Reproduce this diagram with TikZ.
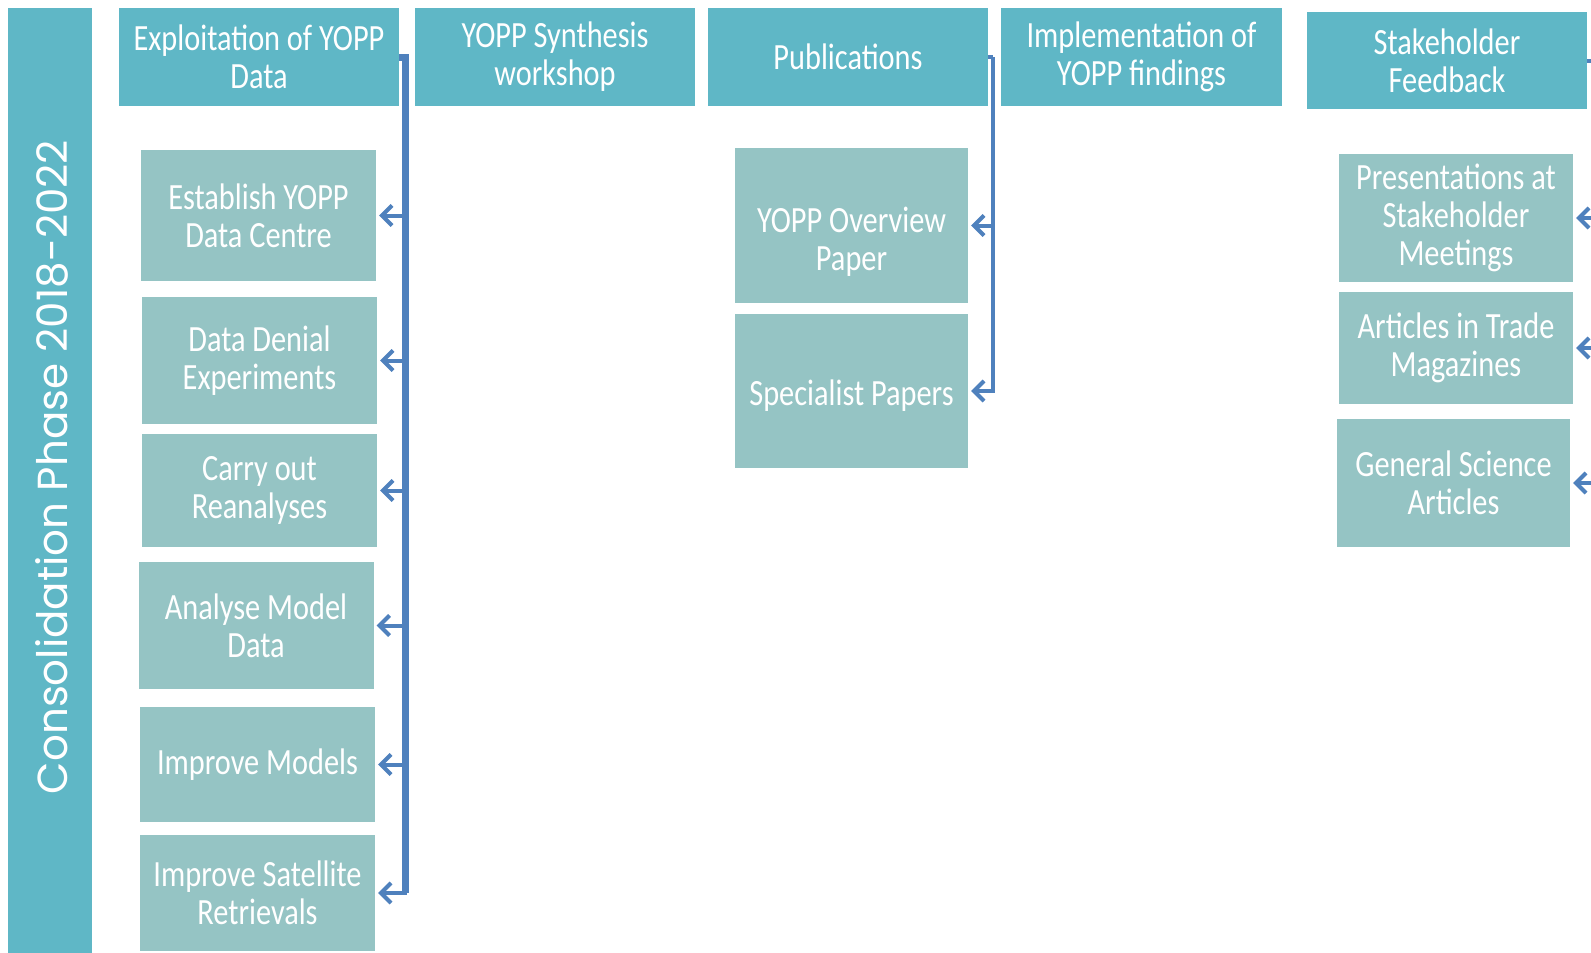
\documentclass[tikz,border=0pt]{standalone}
\usepackage{fontspec}
\setmainfont{Carlito}[FakeStretch=0.82]
\newfontfamily\balken{Poppins}
\usetikzlibrary{arrows.meta}
\definecolor{kopfblau}{HTML}{5FB7C6}
\definecolor{feldgruen}{HTML}{95C4C4}
\definecolor{pfeilblau}{HTML}{4F81BD}
\tikzset{
  schrift/.style={text=white, inner sep=0pt, align=center, font=\fontsize{37}{38}\selectfont},
  kopf/.style={schrift, fill=kopfblau, minimum width=280pt, minimum height=98pt},
  feld/.style={schrift, fill=feldgruen, minimum width=235pt},
  pfeil/.style={pfeilblau, line width=4pt, -{Straight Barb[length=10pt,width=20pt]}, shorten >=3pt}
}
\begin{document}
\begin{tikzpicture}[x=1pt, y=-1pt]
\useasboundingbox (0,0) rectangle (1591,953);

% Balken links
\fill [kopfblau] (8,8) rectangle (92,960);
\node (phase) [rotate=90, text=white, font=\balken\fontsize{42}{48}\selectfont] at (52,467) {Consolidation Phase 2018-2022};

% Kopfzeile
\node (exp) [kopf] at (259,57) {Exploitation of YOPP\\Data};
\node (syn) [kopf] at (555,57) {YOPP Synthesis\\workshop};
\node (pub) [kopf] at (848,57) {Publications};
\node (impl) [kopf, minimum width=281pt] at (1141.5,57) {Implementation of\\YOPP findings};
\node (stk) [kopf, minimum height=97pt] at (1447,60.5) {Stakeholder\\Feedback};

% Felder
\node (est) [feld, minimum height=131pt] at (258.5,215.5) {Establish YOPP\\Data Centre};
\node (den) [feld, minimum height=127pt] at (259.5,360.5) {Data Denial\\Experiments};
\node (rea) [feld, minimum height=113pt] at (259.5,490.5) {Carry out\\Reanalyses};
\node (ana) [feld, minimum height=127pt] at (256,625.5) {Analyse Model\\Data};
\node (mod) [feld, minimum height=115pt] at (257.5,764.5) {Improve Models};
\node (sat) [feld, minimum height=116pt] at (257.5,893) {Improve Satellite\\Retrievals};

\node (ovw) [feld, minimum width=233pt, minimum height=155pt] at (851.5,225.5) {};
\node (ovwtext) [schrift] at (851.5,241.5) {YOPP Overview\\Paper};
\node (spe) [feld, minimum width=233pt, minimum height=154pt] at (851.5,391) {};
\node (spetext) [schrift] at (851.5,396) {Specialist Papers};

\node (pre) [feld, minimum width=234pt, minimum height=128pt] at (1456,218) {Presentations at\\Stakeholder\\Meetings};
\node (art) [feld, minimum width=234pt, minimum height=112pt] at (1456,348) {Articles in Trade\\Magazines};
\node (gen) [feld, minimum width=233pt, minimum height=128pt] at (1453.5,483) {General Science\\Articles};

% Pfeile
\coordinate (ebus) at (405,57);
\coordinate (pbus) at (993,57);
\coordinate (sbus) at (1600,60.5);
\draw [pfeilblau, line width=7pt] (exp.east) -- (ebus) -- (ebus |- sat.east);
\draw [pfeil] (ebus) |- (est.east);
\draw [pfeil] (ebus) |- (den.east);
\draw [pfeil] (ebus) |- (rea.east);
\draw [pfeil] (ebus) |- (ana.east);
\draw [pfeil] (ebus) |- (mod.east);
\draw [pfeil] (ebus) |- (sat.east);
\draw [pfeilblau, line width=4pt] (pub.east) -- (pbus);
\draw [pfeil] (pbus) |- (ovw.east);
\draw [pfeil] (pbus) |- (spe.east);
\draw [pfeilblau, line width=4pt] (stk.east) -- (sbus);
\draw [pfeil] (sbus) |- (pre.east);
\draw [pfeil] (sbus) |- (art.east);
\draw [pfeil] (sbus) |- (gen.east);
\end{tikzpicture}
\end{document}
